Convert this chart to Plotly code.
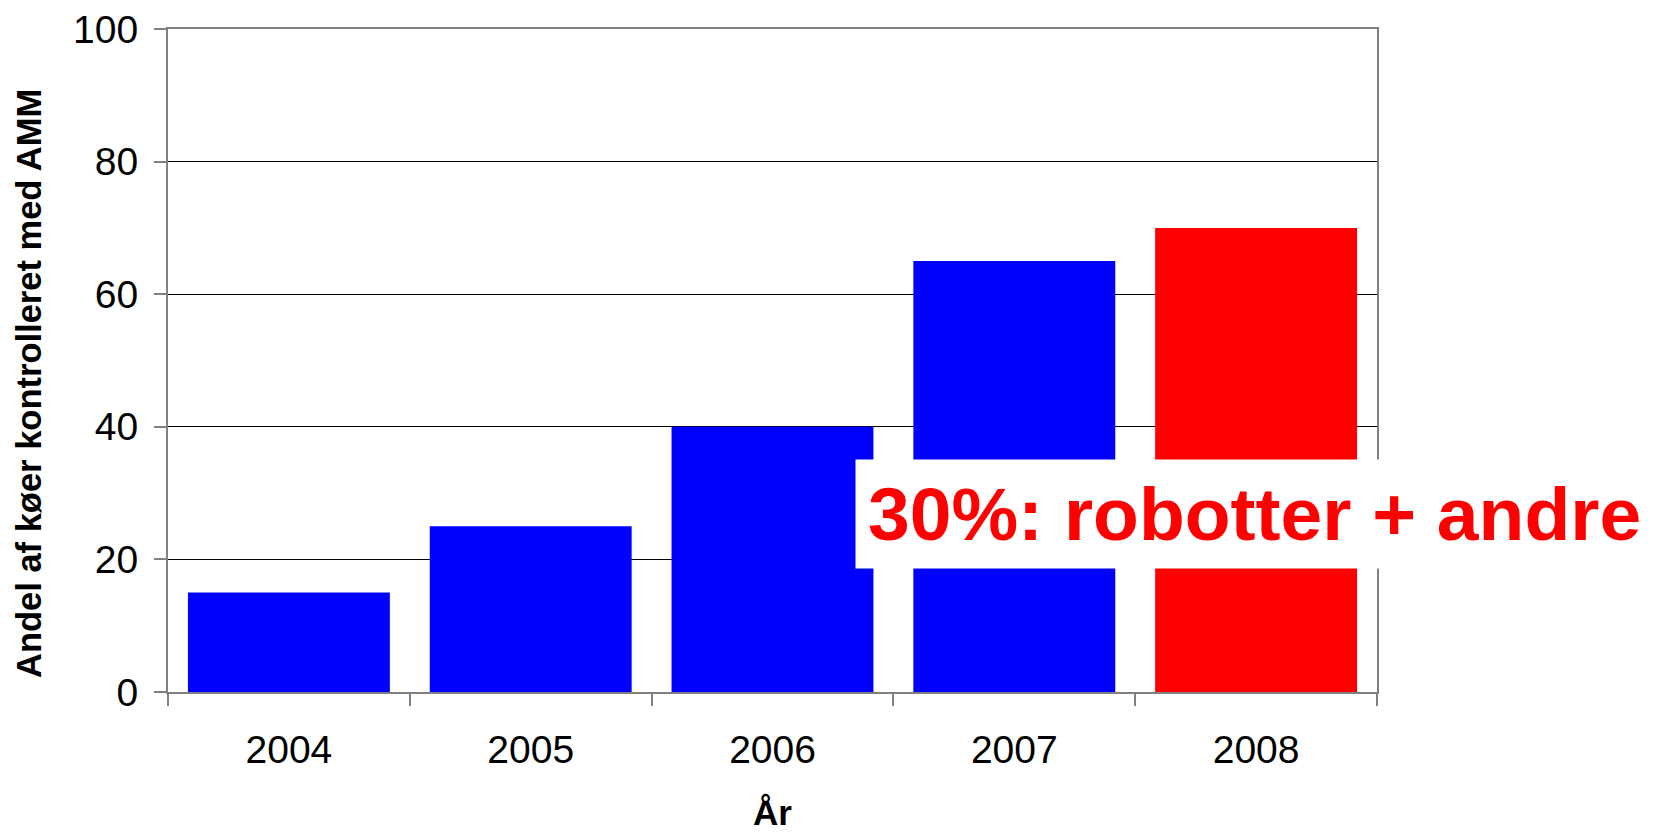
import plotly.graph_objects as go

years = ["2004", "2005", "2006", "2007", "2008"]
share_amm = [15, 25, 40, 65, 70]
bar_colors = ["#0000FF", "#0000FF", "#0000FF", "#0000FF", "#FF0000"]
y_ticks = [0, 20, 40, 60, 80, 100]

FONT = "Liberation Sans, Arial, sans-serif"
AXIS_GREY = "#808080"

fig = go.Figure(go.Bar(x=years, y=share_amm, marker=dict(color=bar_colors, line_width=0),
                       showlegend=False))

# page body adds an 8px offset, so margins are shifted to compensate
fig.update_layout(
    width=1656, height=832,
    margin=dict(l=160, r=287, t=21, b=148),
    paper_bgcolor="white", plot_bgcolor="white",
    font=dict(family=FONT, color="black"),
    bargap=0.165,
)
fig.update_xaxes(
    type="category", automargin=False,
    showline=True, linecolor=AXIS_GREY, linewidth=2, mirror=True,
    ticks="outside", tickson="boundaries", ticklen=12, tickwidth=2, tickcolor=AXIS_GREY,
    tickfont=dict(size=39), ticklabelstandoff=22, showgrid=False,
    title=dict(text="<b>År</b>", font=dict(size=35), standoff=31),
)
fig.update_yaxes(
    range=[0, 100], tickvals=y_ticks, automargin=False, ticklabeloverflow="allow",
    showline=True, linecolor=AXIS_GREY, linewidth=2,
    mirror=True, ticks="outside", ticklen=12, tickwidth=2, tickcolor=AXIS_GREY,
    tickfont=dict(size=39), ticklabelstandoff=8,
    showgrid=True, gridcolor="black", gridwidth=1, zeroline=False,
)
fig.add_annotation(
    text="<b>Andel af køer kontrolleret med AMM</b>", textangle=-90,
    xref="paper", yref="paper", x=-0.115, y=0.466, xanchor="center", yanchor="middle",
    showarrow=False, font=dict(size=34.5, family=FONT, color="black"),
)
fig.add_annotation(
    text="<b>30%: robotter + andre</b>", xref="paper", yref="paper",
    x=0.5686, y=0.268, xanchor="left", yanchor="middle", showarrow=False,
    font=dict(size=75, family=FONT, color="#FF0000"), align="left",
    bgcolor="white", borderpad=12,
)

fig.write_html("out.html")
